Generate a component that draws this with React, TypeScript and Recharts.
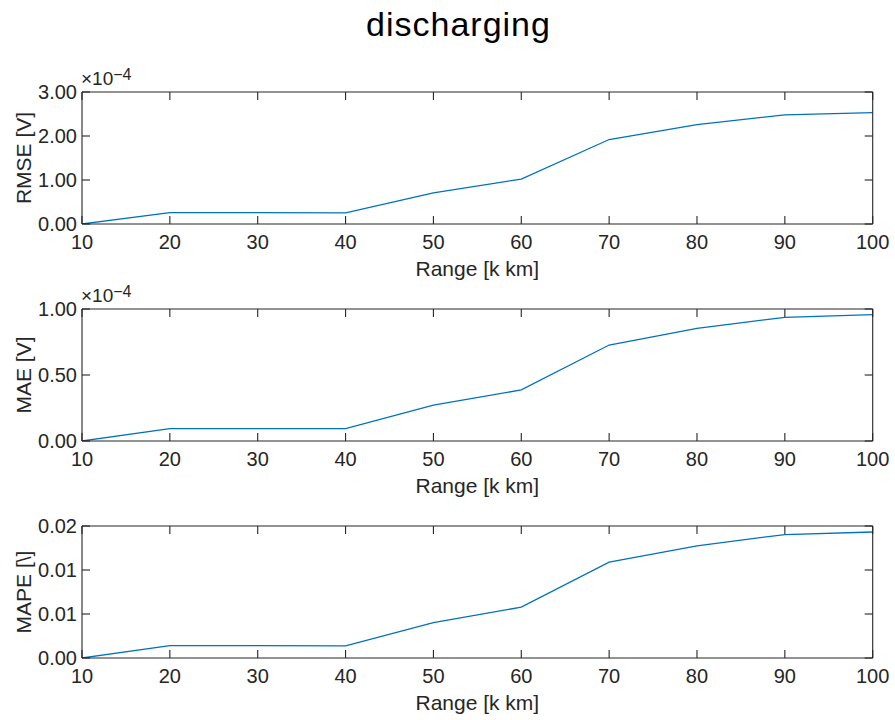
import React from 'react';
import { LineChart, Line, XAxis, YAxis } from 'recharts';

// ---- data ----
const rangeKm = [10, 20, 30, 40, 50, 60, 70, 80, 90, 100];
const rmseV = [0, 0.26e-4, 0.26e-4, 0.255e-4, 0.705e-4, 1.02e-4, 1.92e-4, 2.26e-4, 2.48e-4, 2.53e-4];
const maeV = [0, 0.094e-4, 0.094e-4, 0.094e-4, 0.271e-4, 0.387e-4, 0.727e-4, 0.853e-4, 0.937e-4, 0.957e-4];
const mapeVal = [0, 0.0014, 0.0014, 0.00137, 0.00402, 0.00578, 0.0109, 0.01275, 0.01403, 0.01432];

const xTicks = [10, 20, 30, 40, 50, 60, 70, 80, 90, 100];
const rmseTicks = [0, 1e-4, 2e-4, 3e-4];
const rmseTickLabels = ['0.00', '1.00', '2.00', '3.00'];
const maeTicks = [0, 0.5e-4, 1e-4];
const maeTickLabels = ['0.00', '0.50', '1.00'];
const mapeTicks = [0, 0.005, 0.01, 0.015];
const mapeTickLabels = ['0.00', '0.01', '0.01', '0.02'];

const title = 'discharging';
const xTitle = 'Range [k km]';

// ---- style ----
const W = 895;
const H = 217;
const AX = '#262626';
const TXT = '#262626';
const BLUE = '#0072BD';
const FONT = '"Liberation Sans", Arial, Helvetica, sans-serif';
const TICK = 8;
const TICK_FS = 20;

const vbOf = (p: any) => p.viewBox || { x: p.x, y: p.y, width: p.width, height: p.height };

const BottomTick = (p: any) => {
  const { x, y, payload } = p;
  return (
    <g>
      <line x1={x} x2={x} y1={y} y2={y - TICK} stroke={AX} strokeWidth={1.1} />
      <text x={x} y={y + 25} textAnchor="middle" fontSize={TICK_FS} fill={TXT} fontFamily={FONT}>
        {payload.value}
      </text>
    </g>
  );
};

const TopTick = (p: any) => {
  const { x, y } = p;
  return <line x1={x} x2={x} y1={y} y2={y + TICK} stroke={AX} strokeWidth={1.1} />;
};

const makeLeftTick = (ticks: number[], labels: string[]) => (p: any) => {
  const { x, y, payload, index } = p;
  let i = ticks.indexOf(payload.value);
  if (i < 0) i = index;
  return (
    <g>
      <line x1={x} x2={x + TICK} y1={y} y2={y} stroke={AX} strokeWidth={1.1} />
      <text x={x - 5} y={y + 7} textAnchor="end" fontSize={TICK_FS} fill={TXT} fontFamily={FONT}>
        {labels[i]}
      </text>
    </g>
  );
};

const RightTick = (p: any) => {
  const { x, y } = p;
  return <line x1={x} x2={x - TICK} y1={y} y2={y} stroke={AX} strokeWidth={1.1} />;
};

const XTitle = (p: any) => {
  const vb = vbOf(p);
  return (
    <text x={vb.x + vb.width / 2} y={vb.y + 51.7} textAnchor="middle" fontSize={21} fill={TXT} fontFamily={FONT}>
      {xTitle}
    </text>
  );
};

const makeYTitle = (text: string) => (p: any) => {
  const vb = vbOf(p);
  const cx = vb.x + 30.5;
  const cy = vb.y + vb.height / 2;
  return (
    <text x={cx} y={cy} transform={`rotate(-90, ${cx}, ${cy})`} textAnchor="middle" fontSize={21} fill={TXT} fontFamily={FONT}>
      {text}
    </text>
  );
};

const makeExponent = (exp: string) => (p: any) => {
  const vb = vbOf(p);
  const baseY = vb.y + vb.height - 6.7;
  return (
    <text x={vb.x - 1} y={baseY} fontSize={19} fill={TXT} fontFamily={FONT}>
      ×10
      <tspan dy={-5} fontSize={16}>{exp}</tspan>
    </text>
  );
};

type PanelProps = {
  top: number;
  values: number[];
  yTicks: number[];
  yLabels: string[];
  yTitle: string;
  exponent?: string;
};

function Panel({ top, values, yTicks, yLabels, yTitle, exponent }: PanelProps) {
  const data = rangeKm.map((r, i) => ({ range: r, v: values[i] }));
  const yDomain: [number, number] = [yTicks[0], yTicks[yTicks.length - 1]];
  const LeftTick = makeLeftTick(yTicks, yLabels);
  const YT = makeYTitle(yTitle);
  const Exp = exponent ? makeExponent(exponent) : null;
  return (
    <div style={{ position: 'absolute', left: 0, top, width: W, height: H }}>
      <LineChart width={W} height={H} data={data} margin={{ top: 25, right: 21.3, bottom: 29, left: 0 }}>
        <XAxis
          xAxisId="b"
          dataKey="range"
          type="number"
          domain={[10, 100]}
          ticks={xTicks}
          interval={0}
          height={30}
          tickSize={0}
          tickMargin={0}
          tickLine={false}
          allowDataOverflow
          axisLine={{ stroke: AX, strokeWidth: 1.1 }}
          tick={(p: any) => <BottomTick {...p} />}
          label={(p: any) => <XTitle {...p} />}
        />
        <XAxis
          xAxisId="t"
          dataKey="range"
          orientation="top"
          type="number"
          domain={[10, 100]}
          ticks={xTicks}
          interval={0}
          height={1}
          tickSize={0}
          tickMargin={0}
          tickLine={false}
          allowDataOverflow
          axisLine={{ stroke: AX, strokeWidth: 1.1 }}
          tick={(p: any) => <TopTick {...p} />}
          label={Exp ? (p: any) => <Exp {...p} /> : undefined}
        />
        <YAxis
          yAxisId="l"
          type="number"
          domain={yDomain}
          ticks={yTicks}
          interval={0}
          width={82}
          tickSize={0}
          tickMargin={0}
          tickLine={false}
          allowDataOverflow
          axisLine={{ stroke: AX, strokeWidth: 1.1 }}
          tick={(p: any) => <LeftTick {...p} />}
          label={(p: any) => <YT {...p} />}
        />
        <YAxis
          yAxisId="r"
          orientation="right"
          type="number"
          domain={yDomain}
          ticks={yTicks}
          interval={0}
          width={1}
          tickSize={0}
          tickMargin={0}
          tickLine={false}
          allowDataOverflow
          axisLine={{ stroke: AX, strokeWidth: 1.1 }}
          tick={(p: any) => <RightTick {...p} />}
        />
        <Line
          xAxisId="b"
          yAxisId="l"
          type="linear"
          dataKey="v"
          stroke={BLUE}
          strokeWidth={1.3}
          dot={false}
          activeDot={false}
          isAnimationActive={false}
        />
      </LineChart>
    </div>
  );
}

export default function App() {
  return (
    <div
      style={{
        position: 'absolute',
        left: 0,
        top: 0,
        width: W,
        height: 720,
        background: '#ffffff',
        fontFamily: FONT,
        overflow: 'hidden',
      }}
    >
      <svg width={W} height={66} style={{ position: 'absolute', left: 0, top: 0 }}>
        <text x={458.5} y={35.7} textAnchor="middle" fontSize={34} letterSpacing={1} fill="#000000" fontFamily={FONT}>
          {title}
        </text>
      </svg>
      <Panel top={65.7} values={rmseV} yTicks={rmseTicks} yLabels={rmseTickLabels} yTitle="RMSE [V]" exponent="−4" />
      <Panel top={283} values={maeV} yTicks={maeTicks} yLabels={maeTickLabels} yTitle="MAE [V]" exponent="−4" />
      <Panel top={500.2} values={mapeVal} yTicks={mapeTicks} yLabels={mapeTickLabels} yTitle="MAPE [\]" />
    </div>
  );
}
